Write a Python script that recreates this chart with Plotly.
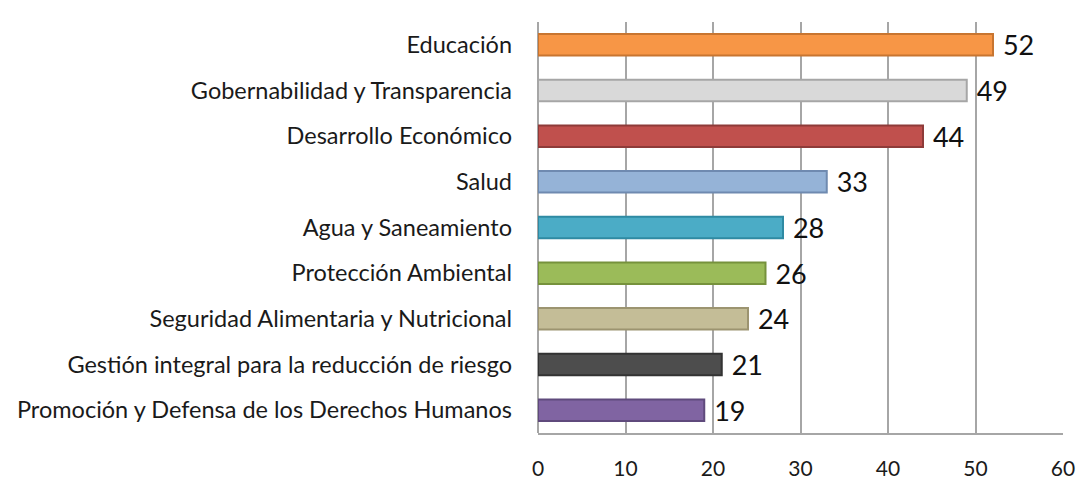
import plotly.graph_objects as go

categories = [
    "Educación",
    "Gobernabilidad y Transparencia",
    "Desarrollo Económico",
    "Salud",
    "Agua y Saneamiento",
    "Protección Ambiental",
    "Seguridad Alimentaria y Nutricional",
    "Gestión integral para la reducción de riesgo",
    "Promoción y Defensa de los Derechos Humanos",
]
values = [52, 49, 44, 33, 28, 26, 24, 21, 19]
colors = ["#F79646", "#D9D9D9", "#C0504D", "#95B3D7", "#4BACC6",
          "#9BBB59", "#C4BD97", "#4D4D4D", "#8064A2"]
edge_colors = ["#C87530", "#A6A6A6", "#8E3B39", "#6F8AB0", "#2F8AA3",
               "#76923C", "#9C9470", "#333333", "#5F4A7C"]
x_ticks = [0, 10, 20, 30, 40, 50, 60]

fig = go.Figure(
    go.Bar(
        y=categories,
        x=values,
        orientation="h",
        marker=dict(color=colors, line=dict(color=edge_colors, width=2)),
        width=0.47,
        text=["\u00a0" + str(v) for v in values],
        textposition="outside",
        constraintext="none",
        textfont=dict(family="Lato", size=27, color="#111111"),
        cliponaxis=False,
    )
)

fig.update_layout(
    width=1091,
    height=480,
    margin=dict(l=530, r=36, t=14, b=55),
    paper_bgcolor="white",
    plot_bgcolor="white",
    showlegend=False,
    font=dict(family="Lato", size=22, color="#1a1a1a"),
    xaxis=dict(
        range=[0, 60],
        tickvals=x_ticks,
        showgrid=True,
        gridcolor="#A6A6A6",
        gridwidth=2,
        zeroline=True,
        zerolinecolor="#A6A6A6",
        zerolinewidth=2,
        showline=True,
        linecolor="#A6A6A6",
        linewidth=2,
        ticks="",
        ticklabelstandoff=16,
        tickfont=dict(family="Lato", size=21, color="#1a1a1a"),
        automargin=False,
    ),
    yaxis=dict(
        categoryorder="array",
        categoryarray=categories[::-1],
        showgrid=False,
        ticks="",
        ticklabelstandoff=25,
        automargin=False,
        tickfont=dict(family="Lato", size=23.5, color="#1a1a1a"),
    ),
)

fig.write_html("out.html")
